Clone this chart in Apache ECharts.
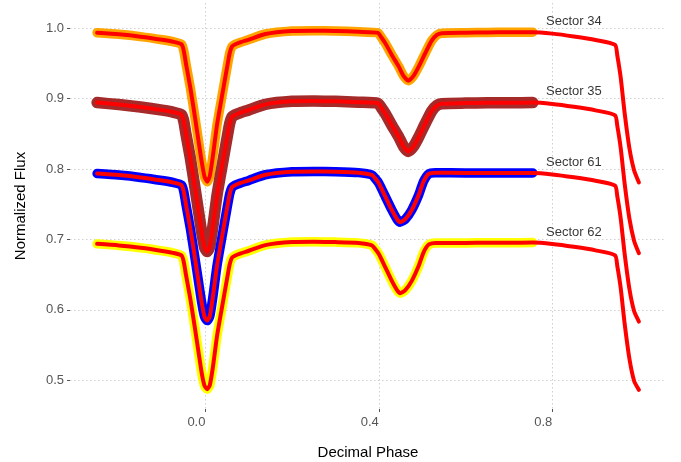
<!DOCTYPE html>
<html>
<head>
<meta charset="utf-8">
<script src="https://cdn.jsdelivr.net/npm/echarts@6/dist/echarts.min.js"></script>
<style>
  html, body { margin: 0; padding: 0; background: #ffffff; }
  #chart { width: 681px; height: 462px; }
</style>
</head>
<body>
<div id="chart"></div>
<script>
// Phase grids (Sectors 34/35 and Sectors 61/62 differ around the secondary eclipse)
const phaseA = [-0.25,-0.2,-0.15,-0.1,-0.075,-0.055,-0.05,-0.045,-0.035,-0.025,-0.015,-0.008,-0.002,0.004,0.01,0.017,0.027,0.04,0.052,0.056,0.061,0.068,0.08,0.1,0.138,0.2,0.25,0.3,0.353,
  0.398,0.406,0.415,0.43,0.446,0.457,0.468,0.48,0.492,0.507,0.522,0.534,0.545,
  0.6,0.65,0.7,0.755,0.8,0.85,0.9,0.945,0.95,0.958,0.967,0.978,0.989,1.0];
const phaseB = [-0.25,-0.2,-0.15,-0.1,-0.075,-0.055,-0.05,-0.045,-0.035,-0.025,-0.015,-0.008,-0.002,0.004,0.01,0.017,0.027,0.04,0.052,0.056,0.061,0.068,0.08,0.1,0.138,0.2,0.25,0.3,0.353,
  0.384,0.392,0.4,0.415,0.43,0.442,0.449,0.461,0.476,0.492,0.503,0.515,0.53,
  0.6,0.65,0.7,0.755,0.8,0.85,0.9,0.945,0.95,0.958,0.967,0.978,0.989,1.0];

// Normalized flux (stacked with 0.1 offsets between sectors)
const flux34 = [0.9938,0.9915,0.9882,0.9838,0.981,0.9772,0.968,0.95,0.916,0.877,0.836,0.808,0.789,0.782,0.79,0.818,0.864,0.91,0.952,0.965,0.974,0.977,0.98,0.984,0.992,0.9963,0.9967,0.9963,0.995,
  0.9935,0.987,0.9788,0.9622,0.9456,0.9324,0.9257,0.9324,0.9456,0.9646,0.9825,0.9906,0.993,
  0.9938,0.9942,0.9944,0.9945,0.9925,0.9885,0.9835,0.9765,0.962,0.93,0.88,0.83,0.798,0.781];
const flux35 = [0.8945,0.8917,0.8882,0.8838,0.881,0.8772,0.868,0.85,0.816,0.777,0.736,0.708,0.689,0.683,0.69,0.718,0.764,0.81,0.852,0.865,0.874,0.877,0.88,0.884,0.892,0.8963,0.8967,0.8963,0.895,
  0.8935,0.887,0.8788,0.8622,0.8456,0.8322,0.8252,0.8322,0.8456,0.8646,0.8825,0.8906,0.893,
  0.8938,0.8942,0.8944,0.8945,0.8925,0.8885,0.8835,0.8765,0.862,0.83,0.78,0.73,0.698,0.6805];
const flux61 = [0.7938,0.7915,0.7882,0.7838,0.781,0.7772,0.768,0.75,0.716,0.677,0.636,0.608,0.59,0.5848,0.591,0.618,0.664,0.71,0.752,0.765,0.774,0.777,0.78,0.784,0.792,0.7963,0.7967,0.7963,0.795,
  0.7918,0.7865,0.78,0.761,0.742,0.7288,0.7246,0.7288,0.742,0.7634,0.7823,0.7932,0.795,
  0.7945,0.7944,0.7944,0.7945,0.7925,0.7885,0.7835,0.7765,0.762,0.73,0.68,0.63,0.598,0.5834];
const flux62 = [0.6938,0.6915,0.6882,0.6838,0.681,0.6772,0.668,0.65,0.616,0.577,0.536,0.508,0.492,0.4874,0.493,0.518,0.564,0.61,0.652,0.665,0.674,0.677,0.68,0.684,0.692,0.6963,0.6967,0.6963,0.6952,
  0.6918,0.6862,0.6795,0.6605,0.6412,0.628,0.6237,0.628,0.6412,0.6626,0.6815,0.6928,0.6952,
  0.6952,0.6953,0.6955,0.6956,0.6936,0.6896,0.6846,0.6776,0.663,0.631,0.581,0.531,0.499,0.4864];

const sectorNames = ['Sector 34', 'Sector 35', 'Sector 61', 'Sector 62'];
const sectorPhases = [phaseA, phaseA, phaseB, phaseB];
const sectorFluxes = [flux34, flux35, flux61, flux62];
const labelPhase = [0.85, 0.85, 0.85, 0.85];
const labelFlux = [1.01, 0.91, 0.81, 0.71];
const observedEnd = 0.755;   // observations cover one cycle; the model runs to phase 1.0

const xTicks = [0.0, 0.4, 0.8];
const yTicks = [0.5, 0.6, 0.7, 0.8, 0.9, 1.0];

const bandColors = ['#FFA500', '#A52A2A', '#0000FF', '#FFFF00'];
const bandWidths = [9.5, 11.5, 9.5, 9.5];
const FONT = "'Liberation Sans', Arial, Helvetica, sans-serif";

const chart = echarts.init(document.getElementById('chart'), null, { renderer: 'canvas' });

const series = [];
// observed light curves (dense points drawn as a thick band)
sectorNames.forEach((name, k) => {
  const pts = [];
  sectorPhases[k].forEach((p, i) => { if (p <= observedEnd + 1e-9) pts.push([p, sectorFluxes[k][i]]); });
  series.push({
    name: name + ' data', type: 'line', data: pts, showSymbol: false, silent: true,
    smooth: 0.2, z: 2,
    lineStyle: { color: bandColors[k], width: bandWidths[k], cap: 'round', join: 'round' }
  });
});
// model curves
sectorNames.forEach((name, k) => {
  series.push({
    name: name + ' model', type: 'line',
    data: sectorPhases[k].map((p, i) => [p, sectorFluxes[k][i]]),
    showSymbol: false, silent: true, z: 3, smooth: 0.2,
    lineStyle: { color: '#FF0000', width: 4, cap: 'round', join: 'round' }
  });
});
// sector annotations
series.push({
  type: 'scatter', z: 4, silent: true, symbolSize: 0,
  itemStyle: { color: 'rgba(0,0,0,0)' },
  data: sectorNames.map((n, k) => ({ value: [labelPhase[k], labelFlux[k]], name: n })),
  label: {
    show: true, position: 'inside', formatter: p => p.name,
    color: '#000000', fontSize: 13, fontFamily: FONT
  }
});

const gridLine = { show: true, lineStyle: { color: '#cfcfcf', width: 1, type: [1.5, 2.5] } };

chart.setOption({
  animation: false,
  backgroundColor: '#ffffff',
  grid: { left: 70, right: 15, top: 3, bottom: 53, containLabel: false, outerBoundsMode: 'none' },
  xAxis: {
    type: 'value', min: -0.3125, max: 1.0625,
    name: 'Decimal Phase', nameLocation: 'middle', nameGap: 36,
    nameTextStyle: { color: '#000', fontSize: 15, fontFamily: FONT },
    axisLine: { show: false, onZero: false },
    axisTick: { show: true, length: 3, customValues: xTicks, lineStyle: { color: '#555' } },
    axisLabel: { customValues: xTicks, formatter: v => v.toFixed(1), align: 'right', margin: 7,
                 color: '#555', fontSize: 13, fontFamily: FONT },
    splitLine: gridLine
  },
  yAxis: {
    type: 'value', min: 0.4592, max: 1.036,
    name: 'Normalized Flux', nameLocation: 'middle', nameGap: 42,
    nameTextStyle: { color: '#000', fontSize: 15, fontFamily: FONT },
    axisLine: { show: false, onZero: false },
    axisTick: { show: true, length: 3, customValues: yTicks, lineStyle: { color: '#555' } },
    axisLabel: { customValues: yTicks, formatter: v => v.toFixed(1), margin: 6,
                 color: '#555', fontSize: 13, fontFamily: FONT },
    splitLine: gridLine
  },
  series: series
});
</script>
</body>
</html>
